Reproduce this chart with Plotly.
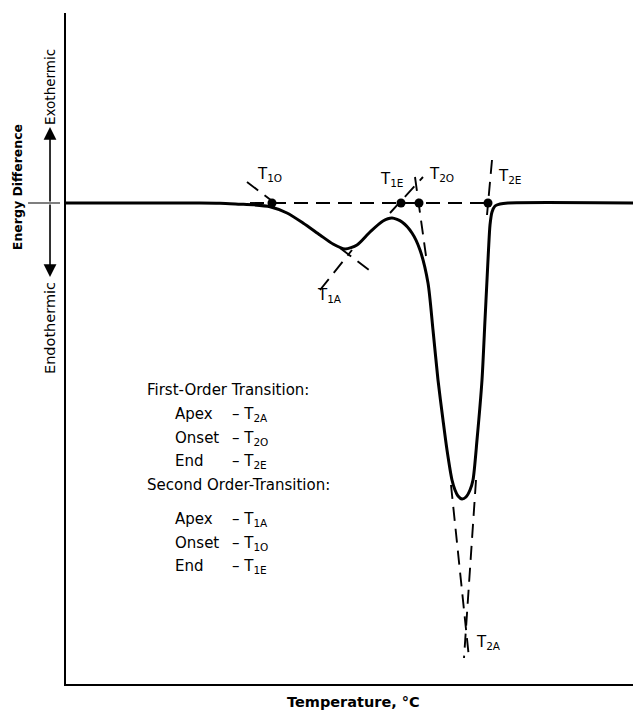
import plotly.graph_objects as go

# ---- data (temperature units along x, energy difference along y; baseline = 0) ----
curve_T = [0, 84, 134, 154, 174, 187, 204, 221, 237, 254, 267, 279, 291, 304, 317, 326, 336, 346, 354,
           362, 367, 372, 377, 381, 386, 389, 392, 396, 400, 404, 407, 411, 416, 419, 421, 422.5, 424, 426, 429,
           434, 442, 575]
curve_E = [0, 0, 0, -0.3, -1.2, -1.8, -3.7, -10, -20, -32, -41, -46, -42, -29, -18, -15, -19, -30, -47,
           -80, -127, -177, -217, -247, -277, -287, -293, -296, -294, -287, -277, -237, -177, -117, -77, -47, -22, -9, -3,
           -1, 0, 0]

# construction (dashed) lines: pairs of end points
dash_T = [[184, 424], [181, 214], [254, 286], [274, 307], [324, 357], [349, 360], [426, 421], [385, 403], [410, 398]]
dash_E = [[0, 0], [21, -4], [-87, -47], [-45, -70], [-10, 26], [26, -53], [43, -12], [-282, -455], [-277, -455]]

# characteristic points on the extrapolated baseline
dot_T = [206, 335, 353, 422]
dot_E = [0, 0, 0, 0]

# point labels
lab_text = ["T<sub>1O</sub>", "T<sub>1E</sub>", "T<sub>2O</sub>", "T<sub>2E</sub>", "T<sub>1A</sub>", "T<sub>2A</sub>"]
lab_T = [189, 312, 361, 430, 249, 408]
lab_E = [29, 24, 29, 27, -92, -439]

# legend text block
head_text = ["First-Order Transition:", "Second Order-Transition:"]
head_E = [-187, -282]
item_text = ["Apex", "Onset", "End", "Apex", "Onset", "End"]
item_sym = ["T<sub>2A</sub>", "T<sub>2O</sub>", "T<sub>2E</sub>", "T<sub>1A</sub>", "T<sub>1O</sub>", "T<sub>1E</sub>"]
item_E = [-211, -235, -258, -316, -340, -363]

FONT = "DejaVu Sans"

fig = go.Figure()
for xs, ys in zip(dash_T, dash_E):
    fig.add_trace(go.Scatter(x=xs, y=ys, mode="lines",
                             line=dict(color="black", width=1.9, dash="14px,8px"),
                             hoverinfo="skip", showlegend=False))
fig.add_trace(go.Scatter(x=curve_T, y=curve_E, mode="lines",
                         line=dict(color="black", width=3, shape="spline", smoothing=0.7),
                         showlegend=False))
fig.add_trace(go.Scatter(x=dot_T, y=dot_E, mode="markers",
                         marker=dict(color="black", size=9), showlegend=False))

ann = []
for t, x, y in zip(lab_text, lab_T, lab_E):
    ann.append(dict(x=x, y=y, text=t, showarrow=False, xanchor="left", yanchor="middle",
                    font=dict(family=FONT, size=15, color="black")))
for t, y in zip(head_text, head_E):
    ann.append(dict(x=79, y=y, text=t, showarrow=False, xanchor="left", yanchor="middle",
                    font=dict(family=FONT, size=15, color="black")))
for t, s, y in zip(item_text, item_sym, item_E):
    ann.append(dict(x=107, y=y, text=t, showarrow=False, xanchor="left", yanchor="middle",
                    font=dict(family=FONT, size=15, color="black")))
    ann.append(dict(x=164, y=y, text="– " + s, showarrow=False, xanchor="left", yanchor="middle",
                    font=dict(family=FONT, size=15, color="black")))

# axis side labels
ann.append(dict(xref="paper", x=-0.0278, y=116, text="Exothermic", textangle=-90, showarrow=False,
                xanchor="center", yanchor="middle",
                font=dict(family=FONT, size=13.5, color="black")))
ann.append(dict(xref="paper", x=-0.0278, y=-125, text="Endothermic", textangle=-90, showarrow=False,
                xanchor="center", yanchor="middle",
                font=dict(family=FONT, size=14.5, color="black")))
ann.append(dict(xref="paper", x=-0.085, y=16, text="<b>Energy Difference</b>", textangle=-90, showarrow=False,
                xanchor="center", yanchor="middle",
                font=dict(family=FONT, size=12.5, color="black")))
ann.append(dict(x=287, yref="paper", y=-0.027, text="<b>Temperature, °C</b>", showarrow=False,
                xanchor="center", yanchor="middle",
                font=dict(family=FONT, size=14.5, color="black")))
# arrows
for head in [76, -74]:
    ann.append(dict(xref="paper", x=-0.0278, y=head, ax=0, ay=head, axref="pixel", ayref="pixel",
                    text="", showarrow=True, arrowhead=2, arrowsize=1.6, arrowwidth=1.6, arrowcolor="black"))

fig.update_layout(
    width=633, height=704,
    margin=dict(l=58, r=0, t=5, b=28),
    paper_bgcolor="white", plot_bgcolor="white",
    xaxis=dict(range=[0, 575], showgrid=False, zeroline=False, showticklabels=False, ticks="",
               showline=True, linecolor="black", linewidth=2),
    yaxis=dict(range=[-481, 190], showgrid=False, zeroline=False, showticklabels=False, ticks="",
               showline=True, linecolor="black", linewidth=2),
    annotations=ann,
    shapes=[dict(type="line", xref="paper", yref="y", x0=-0.066, x1=-0.0104, y0=0, y1=0,
                 line=dict(color="black", width=1.2))],
)
fig.write_html("out.html")
